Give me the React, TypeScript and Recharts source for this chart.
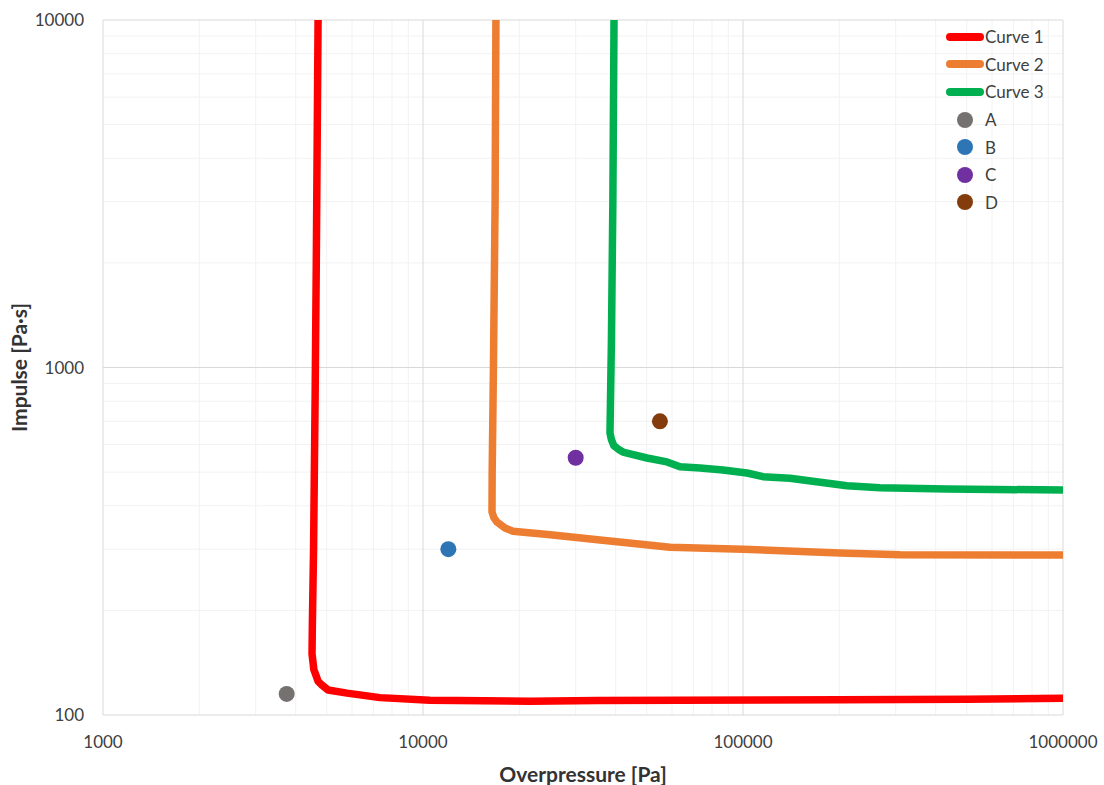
import React from "react";
import { ComposedChart, Line, Scatter, XAxis, YAxis, ReferenceLine } from "recharts";

// [overpressure Pa, impulse Pa·s]
const CURVE_1: [number, number][] = [
  [4700, 10000], [4640, 2000], [4600, 800], [4550, 300], [4510, 180], [4500, 150],
  [4560, 135], [4630, 130], [4700, 125], [4830, 122], [5050, 118], [5790, 115.6],
  [7340, 112.2], [10500, 110.3], [21600, 109.6], [35000, 110.1], [63600, 110.3],
  [200000, 110.6], [500000, 111], [1000000, 111.8],
];

const CURVE_2: [number, number][] = [
  [16900, 10000], [16800, 3000], [16600, 1000], [16450, 500], [16430, 384],
  [16650, 370], [17030, 359], [18040, 345], [19110, 338], [25000, 330],
  [35740, 319], [59140, 304], [100000, 300], [201000, 292.6], [309600, 289],
  [1000000, 288.5],
];

const CURVE_3: [number, number][] = [
  [39530, 10000], [39200, 3000], [38800, 1200], [38400, 648], [38800, 620],
  [39500, 595], [41000, 580], [42170, 571], [50120, 549], [57870, 535],
  [63560, 518], [73400, 514], [86600, 507], [102900, 497], [115500, 485],
  [140200, 480], [211300, 457], [268000, 451], [434000, 447], [1000000, 444],
];

const CURVE_NAMES = ["Curve 1", "Curve 2", "Curve 3"];
const CURVE_COLORS = ["#FF0000", "#ED7D31", "#00B050"];

const POINT_NAMES = ["A", "B", "C", "D"];
const POINT_X = [3750, 12000, 30000, 55000];
const POINT_Y = [115, 300, 550, 700];
const POINT_COLORS = ["#767171", "#2E75B6", "#7030A0", "#843C0C"];

const X_TICKS = [1000, 10000, 100000, 1000000];
const Y_TICKS = [100, 1000, 10000];

const FONT = "Lato, 'Open Sans', sans-serif";
const MINOR = "#f2f2f2";
const MAJOR = "#d9d9d9";

const toPts = (arr: [number, number][]) => arr.map(([x, y]) => ({ x, y }));
const curves = [CURVE_1, CURVE_2, CURVE_3].map(toPts);

// minor grid: 2..9 in each decade
const xMinor = [1000, 10000, 100000].flatMap((d) => [2, 3, 4, 5, 6, 7, 8, 9].map((k) => k * d));
const yMinor = [100, 1000].flatMap((d) => [2, 3, 4, 5, 6, 7, 8, 9].map((k) => k * d));

const titleStyle = { fontFamily: FONT, fontSize: 21, fontWeight: 700, fill: "#333" };

const XTitle = (props: any) => {
  const { x, y, width } = props.viewBox;
  return (
    <text x={x + width / 2} y={y + 58} textAnchor="middle" dominantBaseline="central" style={titleStyle}>
      Overpressure [Pa]
    </text>
  );
};

const YTitle = (props: any) => {
  const { x, y, height } = props.viewBox;
  const cx = x + 18;
  const cy = y + height / 2;
  return (
    <text x={cx} y={cy} transform={`rotate(-90, ${cx}, ${cy})`} textAnchor="middle"
      dominantBaseline="central" style={titleStyle}>
      Impulse [Pa·s]
    </text>
  );
};

function ChartLegend() {
  const row = { display: "flex", alignItems: "center", height: 27.6 } as const;
  return (
    <div style={{ position: "absolute", left: 946, top: 23, fontFamily: FONT, fontSize: 17, color: "#404040" }}>
      {CURVE_NAMES.map((n, i) => (
        <div key={n} style={row}>
          <div style={{ width: 38, height: 8, borderRadius: 4, background: CURVE_COLORS[i], marginRight: 1 }} />
          <span>{n}</span>
        </div>
      ))}
      {POINT_NAMES.map((n, i) => (
        <div key={n} style={row}>
          <div style={{ width: 16, height: 16, borderRadius: 8, background: POINT_COLORS[i], marginLeft: 11, marginRight: 12 }} />
          <span>{n}</span>
        </div>
      ))}
    </div>
  );
}

export default function App() {
  const tick = { fontSize: 17, fill: "#404040", fontFamily: FONT };
  return (
    <div style={{ position: "absolute", left: 0, top: 0, width: 1104, height: 785, background: "#fff" }}>
      <ComposedChart width={1104} height={785} margin={{ top: 20, right: 41, bottom: 0, left: 0 }}>
        <XAxis dataKey="x" type="number" scale="log" domain={[1000, 1000000]} allowDataOverflow
          ticks={X_TICKS} tick={tick} tickLine={false} axisLine={false} tickSize={0} tickMargin={21}
          height={70} interval={0} label={<XTitle />} />
        <YAxis type="number" scale="log" domain={[100, 10000]} allowDataOverflow
          ticks={Y_TICKS} tick={tick} tickLine={false} axisLine={false} tickSize={0} tickMargin={19}
          width={103} interval={0} label={<YTitle />} />

        {xMinor.map((v) => <ReferenceLine key={"xm" + v} x={v} stroke={MINOR} strokeWidth={1} />)}
        {yMinor.map((v) => <ReferenceLine key={"ym" + v} y={v} stroke={MINOR} strokeWidth={1} />)}
        {X_TICKS.map((v) => <ReferenceLine key={"xM" + v} x={v} stroke={MAJOR} strokeWidth={1} />)}
        {Y_TICKS.map((v) => <ReferenceLine key={"yM" + v} y={v} stroke={MAJOR} strokeWidth={1} />)}

        {curves.map((data, i) => (
          <Line key={CURVE_NAMES[i]} name={CURVE_NAMES[i]} data={data} dataKey="y" type="linear"
            stroke={CURVE_COLORS[i]} strokeWidth={7.5} strokeLinejoin="round" dot={false}
            activeDot={false} isAnimationActive={false} />
        ))}

        {POINT_NAMES.map((n, i) => (
          <Scatter key={n} name={n} data={[{ x: POINT_X[i], y: POINT_Y[i] }]} dataKey="y"
            fill={POINT_COLORS[i]} isAnimationActive={false}
            shape={(p: any) => <circle cx={p.cx} cy={p.cy} r={8} fill={POINT_COLORS[i]} />} />
        ))}
      </ComposedChart>
      <ChartLegend />
    </div>
  );
}
